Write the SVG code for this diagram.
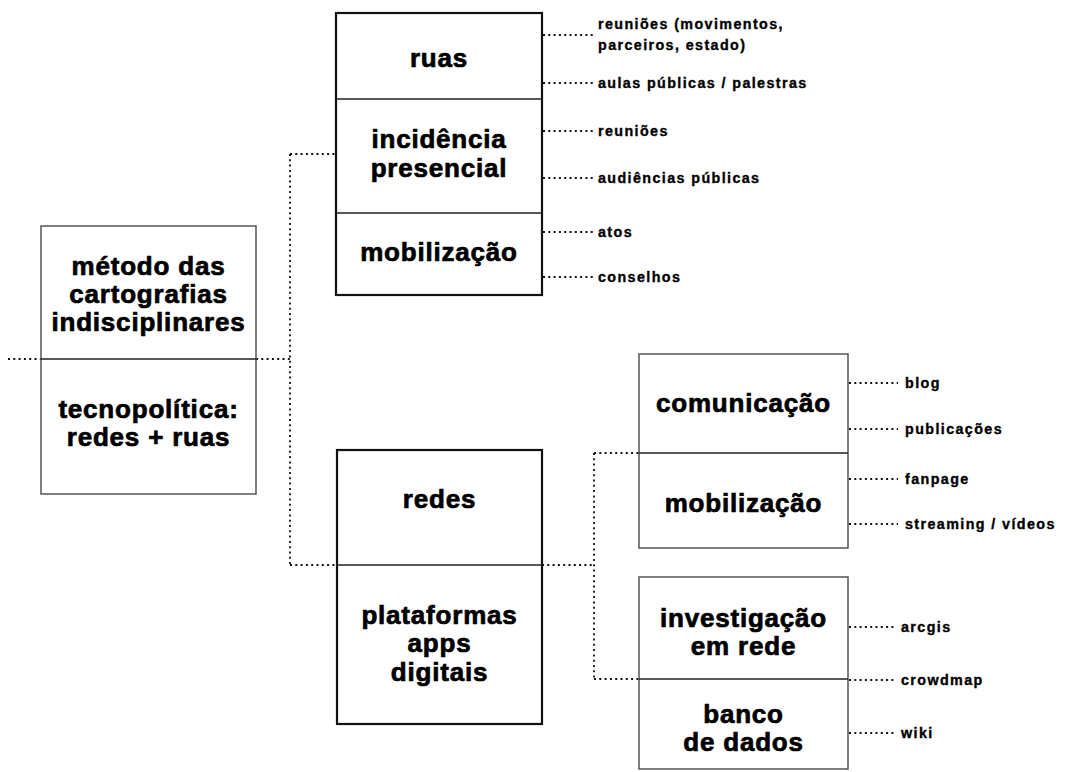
<svg xmlns="http://www.w3.org/2000/svg" width="1067" height="772" viewBox="0 0 1067 772">
<style>
.bg{fill:#fff}
.thin{fill:#fff;stroke:#555;stroke-width:1.5}
.thick{fill:#fff;stroke:#111;stroke-width:2.2}
.div{stroke:#222;stroke-width:1.3}
.dot{fill:none;stroke:#111;stroke-width:1.8;stroke-dasharray:2 3.3}
.t{font-family:"Liberation Sans",Arial,sans-serif;font-weight:bold;font-size:26px;letter-spacing:0.8px;text-anchor:middle;fill:#000;stroke:#000;stroke-width:0.7}
.l{font-family:"Liberation Sans",Arial,sans-serif;font-weight:bold;font-size:14.3px;letter-spacing:1.4px;fill:#000;stroke:#000;stroke-width:0.35}
</style>
<rect class="bg" x="0" y="0" width="1067" height="772"/>
<g id="connectors">
<path class="dot" d="M8 359 H41"/>
<path class="dot" d="M256 359 H290"/>
<path class="dot" d="M290 154 V565"/>
<path class="dot" d="M290 154 H336"/>
<path class="dot" d="M290 565 H337"/>
<path class="dot" d="M542 565 H594"/>
<path class="dot" d="M594 453 V679"/>
<path class="dot" d="M594 453 H639"/>
<path class="dot" d="M594 679 H639"/>
<path class="dot" d="M543 35 H594"/>
<path class="dot" d="M543 83 H594"/>
<path class="dot" d="M543 131 H594"/>
<path class="dot" d="M543 178 H594"/>
<path class="dot" d="M543 232 H594"/>
<path class="dot" d="M543 277 H594"/>
<path class="dot" d="M849 383 H898"/>
<path class="dot" d="M849 429 H898"/>
<path class="dot" d="M849 479 H898"/>
<path class="dot" d="M849 524 H898"/>
<path class="dot" d="M849 627 H896"/>
<path class="dot" d="M849 680 H896"/>
<path class="dot" d="M849 733 H896"/>
</g>
<g id="node-metodo">
<rect class="thin" x="41" y="226" width="215" height="268"/>
<line class="div" x1="41" y1="359" x2="256" y2="359"/>
<text class="t" x="148.5" y="275">método das</text>
<text class="t" x="148.5" y="303">cartografias</text>
<text class="t" x="148.5" y="331">indisciplinares</text>
<text class="t" x="148.5" y="418">tecnopolítica:</text>
<text class="t" x="148.5" y="446">redes + ruas</text>
</g>
<g id="node-ruas">
<rect class="thick" x="336" y="13" width="206" height="282"/>
<line class="div" x1="336" y1="99" x2="542" y2="99"/>
<line class="div" x1="336" y1="213" x2="542" y2="213"/>
<text class="t" x="439" y="67">ruas</text>
<text class="t" x="439" y="148">incidência</text>
<text class="t" x="439" y="177">presencial</text>
<text class="t" x="439" y="261">mobilização</text>
</g>
<g id="labels-ruas">
<text class="l" x="598" y="29">reuniões (movimentos,</text>
<text class="l" x="598" y="50">parceiros, estado)</text>
<text class="l" x="598" y="88">aulas públicas / palestras</text>
<text class="l" x="598" y="136">reuniões</text>
<text class="l" x="598" y="183">audiências públicas</text>
<text class="l" x="598" y="237">atos</text>
<text class="l" x="598" y="282">conselhos</text>
</g>
<g id="node-redes">
<rect class="thick" x="337" y="450" width="205" height="274"/>
<line class="div" x1="337" y1="565" x2="542" y2="565"/>
<text class="t" x="439.5" y="508">redes</text>
<text class="t" x="439.5" y="624">plataformas</text>
<text class="t" x="439.5" y="652">apps</text>
<text class="t" x="439.5" y="681">digitais</text>
</g>
<g id="node-comunicacao">
<rect class="thin" x="639" y="354" width="209" height="194"/>
<line class="div" x1="639" y1="453" x2="848" y2="453"/>
<text class="t" x="743.5" y="412">comunicação</text>
<text class="t" x="743.5" y="512">mobilização</text>
</g>
<g id="labels-comunicacao">
<text class="l" x="905" y="388">blog</text>
<text class="l" x="905" y="434">publicações</text>
<text class="l" x="905" y="484">fanpage</text>
<text class="l" x="905" y="529">streaming / vídeos</text>
</g>
<g id="node-investigacao">
<rect class="thin" x="639" y="577" width="209" height="192"/>
<line class="div" x1="639" y1="679" x2="848" y2="679"/>
<text class="t" x="743.5" y="627">investigação</text>
<text class="t" x="743.5" y="655">em rede</text>
<text class="t" x="743.5" y="723">banco</text>
<text class="t" x="743.5" y="751">de dados</text>
</g>
<g id="labels-investigacao">
<text class="l" x="901" y="632">arcgis</text>
<text class="l" x="901" y="685">crowdmap</text>
<text class="l" x="901" y="738">wiki</text>
</g>
</svg>
